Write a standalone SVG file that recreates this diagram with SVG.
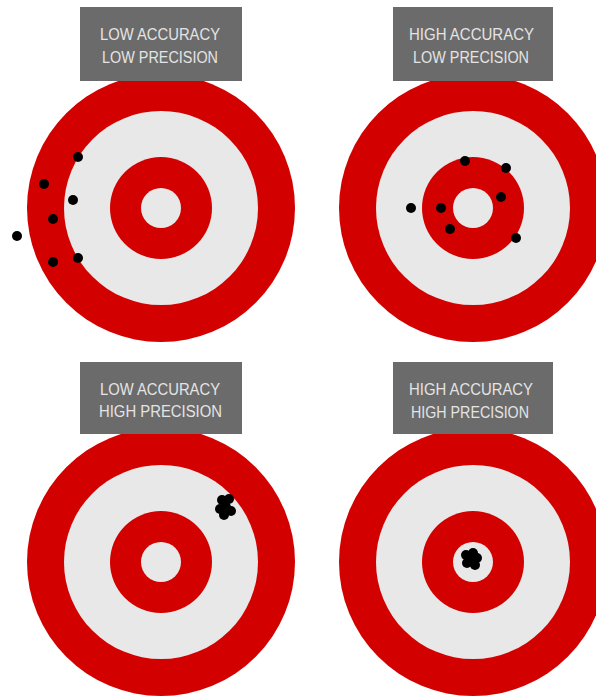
<svg xmlns="http://www.w3.org/2000/svg" width="596" height="697" viewBox="0 0 596 697">
<style>
.red{fill:#d30000}
.wht{fill:#e8e8e8}
.box{fill:#6b6b6b}
.lbl{font-family:"Liberation Sans",Arial,sans-serif;font-size:16px;fill:#e4e4e4;text-anchor:start}
.dot{fill:#000}
</style>
<defs>
<g id="target">
<circle r="134" class="red"/>
<circle r="97" class="wht"/>
<circle r="51" class="red"/>
<circle r="20" class="wht"/>
</g>
</defs>
<rect width="596" height="697" fill="#fff"/>
<g id="t1">
<use href="#target" x="161" y="208"/>
<rect class="box" x="80" y="7" width="162" height="74"/>
<text class="lbl" x="100" y="40" textLength="120" lengthAdjust="spacingAndGlyphs">LOW ACCURACY</text>
<text class="lbl" x="102" y="63" textLength="116" lengthAdjust="spacingAndGlyphs">LOW PRECISION</text>
<circle class="dot" cx="78" cy="157" r="5"/>
<circle class="dot" cx="44" cy="184" r="5"/>
<circle class="dot" cx="73" cy="200" r="5"/>
<circle class="dot" cx="53" cy="219" r="5"/>
<circle class="dot" cx="17" cy="236" r="5"/>
<circle class="dot" cx="53" cy="262" r="5"/>
<circle class="dot" cx="78" cy="258" r="5"/>
</g>
<g id="t2">
<use href="#target" x="473" y="208"/>
<rect class="box" x="393" y="7" width="160" height="74"/>
<text class="lbl" x="409" y="40" textLength="125" lengthAdjust="spacingAndGlyphs">HIGH ACCURACY</text>
<text class="lbl" x="413" y="63" textLength="116" lengthAdjust="spacingAndGlyphs">LOW PRECISION</text>
<circle class="dot" cx="465" cy="161" r="5"/>
<circle class="dot" cx="506" cy="168" r="5"/>
<circle class="dot" cx="411" cy="208" r="5"/>
<circle class="dot" cx="441" cy="208" r="5"/>
<circle class="dot" cx="501" cy="197" r="5"/>
<circle class="dot" cx="450" cy="229" r="5"/>
<circle class="dot" cx="516" cy="238" r="5"/>
</g>
<g id="t3">
<use href="#target" x="161" y="562"/>
<rect class="box" x="80" y="362" width="162" height="72"/>
<text class="lbl" x="100" y="395" textLength="120" lengthAdjust="spacingAndGlyphs">LOW ACCURACY</text>
<text class="lbl" x="99" y="417" textLength="123" lengthAdjust="spacingAndGlyphs">HIGH PRECISION</text>
<circle class="dot" cx="222" cy="500" r="5"/>
<circle class="dot" cx="229" cy="499" r="5"/>
<circle class="dot" cx="220" cy="509" r="5"/>
<circle class="dot" cx="226" cy="507" r="5"/>
<circle class="dot" cx="231" cy="511" r="5"/>
<circle class="dot" cx="224" cy="515" r="5"/>
</g>
<g id="t4">
<use href="#target" x="473" y="562"/>
<rect class="box" x="393" y="362" width="160" height="72"/>
<text class="lbl" x="409" y="395" textLength="124" lengthAdjust="spacingAndGlyphs">HIGH ACCURACY</text>
<text class="lbl" x="411" y="418" textLength="118" lengthAdjust="spacingAndGlyphs">HIGH PRECISION</text>
<circle class="dot" cx="466" cy="555" r="5"/>
<circle class="dot" cx="473" cy="553" r="5"/>
<circle class="dot" cx="477" cy="558" r="5"/>
<circle class="dot" cx="467" cy="563" r="5"/>
<circle class="dot" cx="475" cy="565" r="5"/>
<circle class="dot" cx="470" cy="559" r="5"/>
</g>
<g id="connectors"/>
</svg>
